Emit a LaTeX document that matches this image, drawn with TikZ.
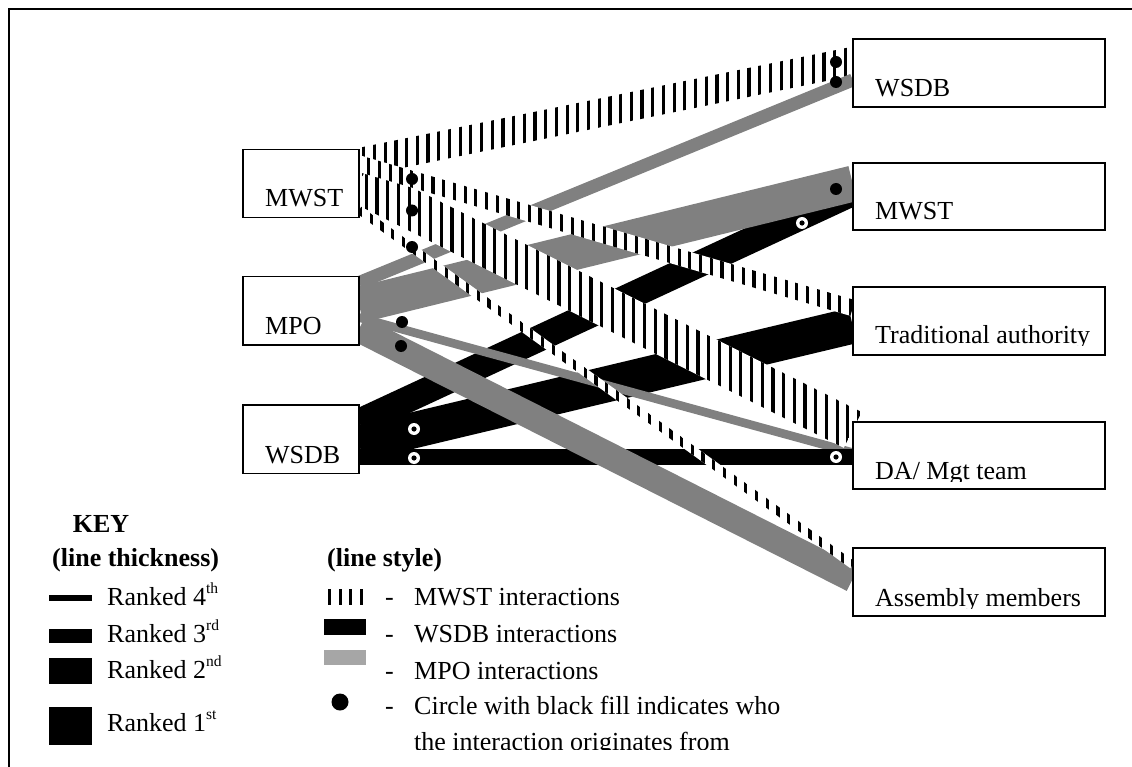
\documentclass[tikz,border=0pt]{standalone}
\usepackage{fontspec}
\setmainfont{Liberation Serif}
\usetikzlibrary{calc,patterns.meta}
\pgfdeclarelayer{bands}
\pgfsetlayers{bands,main}

\definecolor{mpogray}{RGB}{128,128,128}
\definecolor{keygray}{RGB}{166,166,166}

% small raised ordinal suffix
\newcommand{\rsup}[1]{\raisebox{0.45em}{\fontsize{15.5}{15.5}\selectfont #1}}

\begin{document}
\begin{tikzpicture}[
  x=1pt, y=-1pt,
  % a straight band of given half width between two points, with square ends
  ribbon/.style n args={3}{insert path={($(#1)!#3!90:(#2)$) -- ($(#2)!#3!-90:(#1)$) -- ($(#2)!#3!90:(#1)$) -- ($(#1)!#3!-90:(#2)$) -- cycle}},
  wsdbband/.style={fill=black},
  mpoband/.style={fill=mpogray},
  mwstband/.style={fill=white, postaction={pattern={Lines[angle=90, distance=10.7pt, line width=3.2pt, xshift=#1]}}},
  lbox/.style={draw, line width=1.4pt, fill=white, minimum width=116pt, minimum height=68.4pt, inner sep=0pt, outer sep=0pt, anchor=north west},
  rbox/.style={draw, line width=2pt, fill=white, minimum width=252.3pt, minimum height=67.5pt, inner sep=0pt, outer sep=0pt, anchor=north west},
  txt/.style={font=\fontsize{26}{31}\selectfont, inner sep=0pt, anchor=base west},
  btxt/.style={font=\fontsize{26}{31}\selectfont\bfseries, inner sep=0pt, anchor=base west},
  odot/.style={circle, fill=black, minimum size=12pt, inner sep=0pt},
  rdot/.style={circle, fill=white, minimum size=12pt, inner sep=0pt,
    path picture={\fill[black] (path picture bounding box.center) circle (2.6pt);}},
]
\useasboundingbox (0,0) rectangle (1132,767);
\clip (0,0) rectangle (1132,767);

% frame
\draw[line width=2pt] (8.7,767) -- (8.7,9.5) -- (1132,9.5);

% actors on the left
\node[lbox] (lmwst) at (243,149.3) {};
\node[lbox] (lmpo)  at (243,276.7) {};
\node[lbox] (lwsdb) at (243,405) {};
\node[txt] (tlmwst) at ($(lmwst.south west)+(22,-10.8)$) {MWST};
\node[txt] (tlmpo)  at ($(lmpo.south west)+(22,-10.5)$) {MPO};
\node[txt] (tlwsdb) at ($(lwsdb.south west)+(22,-10.3)$) {WSDB};

% actors on the right
\node[rbox] (rwsdb) at (852.7,39.3) {};
\node[rbox] (rmwst) at (852.7,162.7) {};
\node[rbox] (rtrad) at (852.7,287.3) {};
\node[rbox] (rda)   at (852.7,421.7) {};
\node[rbox] (rasm)  at (852.7,548.3) {};
\begin{scope}
  \clip (rwsdb.north west) rectangle ($(rwsdb.south east)+(0,-9)$);
  \node[txt] (trwsdb) at ($(rwsdb.south west)+(22.3,-10.5)$) {WSDB};
\end{scope}
\begin{scope}
  \clip (rmwst.north west) rectangle ($(rmwst.south east)+(0,-9)$);
  \node[txt] (trmwst) at ($(rmwst.south west)+(22.3,-10.8)$) {MWST};
\end{scope}
\begin{scope}
  \clip (rtrad.north west) rectangle ($(rtrad.south east)+(0,-9.5)$);
  \node[txt] (trtrad) at ($(rtrad.south west)+(22.3,-11)$) {Traditional authority};
\end{scope}
\begin{scope}
  \clip (rda.north west) rectangle ($(rda.south east)+(0,-8)$);
  \node[txt] (trda) at ($(rda.south west)+(22.3,-10)$) {DA/ Mgt team};
\end{scope}
\begin{scope}
  \clip (rasm.north west) rectangle ($(rasm.south east)+(0,-7.8)$);
  \node[txt] (trasm) at ($(rasm.south west)+(22.3,-9.3)$) {Assembly members};
\end{scope}

% band end points on the box sides
\coordinate (s1a) at ($(lmwst.north east)+(0,13)$);
\coordinate (s2a) at ($(lmwst.north east)+(0,14.3)$);
\coordinate (s3a) at ($(lmwst.north east)+(0,34.1)$);
\coordinate (s4a) at ($(lmwst.north east)+(0,60.7)$);
\coordinate (g1a) at ($(lmpo.north east)+(0,5.9)$);
\coordinate (g2a) at ($(lmpo.north east)+(0,28.2)$);
\coordinate (g4a) at ($(lmpo.north east)+(0,40.8)$);
\coordinate (g5a) at ($(lmpo.north east)+(0,52.3)$);
\coordinate (b1a) at ($(lwsdb.north east)+(0,17)$);
\coordinate (b2a) at ($(lwsdb.north east)+(0,38.3)$);
\coordinate (b3a) at ($(lwsdb.north east)+(0,52)$);
\coordinate (s1b) at ($(rwsdb.north west)+(0,21.8)$);
\coordinate (g1b) at ($(rwsdb.north west)+(0,40.7)$);
\coordinate (g2b) at ($(rmwst.north west)+(0,20.9)$);
\coordinate (b1b) at ($(rmwst.north west)+(0,30.1)$);
\coordinate (s2b) at ($(rtrad.north west)+(0,20.7)$);
\coordinate (b2b) at ($(rtrad.north west)+(0,38.3)$);
\coordinate (s3b) at ($(rda.north west)+(0,8.2)$);
\coordinate (g4b) at ($(rda.north west)+(0,30.9)$);
\coordinate (b3b) at ($(rda.north west)+(0,35.3)$);
\coordinate (s4b) at ($(rasm.north west)+(0,16.7)$);
\coordinate (g5b) at ($(rasm.north west)+(0,30.7)$);

% interaction bands, bottom to top
\begin{pgfonlayer}{bands}
  \path[mwstband=0pt,   ribbon={s1a}{s1b}{14.2pt}];
  \path[wsdbband,       ribbon={b1a}{b1b}{13.2pt}];
  \path[wsdbband,       ribbon={b2a}{b2b}{18pt}];
  \path[mpoband,        ribbon={g1a}{g1b}{6.5pt}];
  \path[mpoband,        ribbon={g2a}{g2b}{18pt}];
  \path[mpoband,        ribbon={g4a}{g4b}{4.3pt}];
  \path[wsdbband,       ribbon={b3a}{b3b}{8pt}];
  \path[mpoband,        ribbon={g5a}{g5b}{13.3pt}];
  \path[mwstband=2.5pt, ribbon={s3a}{s3b}{20pt}];
  \path[mwstband=5pt,   ribbon={s2a}{s2b}{8.2pt}];
  \path[mwstband=7.5pt, ribbon={s4a}{s4b}{4pt}];
\end{pgfonlayer}

% who started each interaction
\node[odot] (o1) at (412,179) {};
\node[odot] (o2) at (412,210.5) {};
\node[odot] (o3) at (412,247) {};
\node[odot] (o4) at (836,62) {};
\node[odot] (o5) at (836,82) {};
\node[odot] (o6) at (836,189) {};
\node[odot] (o7) at (402,322) {};
\node[odot] (o8) at (401,346) {};
\node[rdot] (r1) at (414,429) {};
\node[rdot] (r2) at (414,458) {};
\node[rdot] (r3) at (836,457) {};
\node[rdot] (r4) at (802,223) {};

% key: line thickness
\node[btxt, anchor=base] (kkey) at (101,532) {KEY};
\node[btxt] (kthick) at (52,566) {(line thickness)};
\fill (49,595) rectangle (92,601);
\fill (49,629) rectangle (92,643);
\fill (49,658) rectangle (92,684);
\fill (49,707) rectangle (92,745);
\node[txt] (kr4) at (107,605) {Ranked 4\rsup{th}};
\node[txt] (kr3) at (107,642) {Ranked 3\rsup{rd}};
\node[txt] (kr2) at (107,678) {Ranked 2\rsup{nd}};
\node[txt] (kr1) at (107,731) {Ranked 1\rsup{st}};

% key: line style
\node[btxt] (kstyle) at (327,566) {(line style)};
\foreach \k in {0,1,2,3}
  \fill (328+\k*10.5,589) rectangle +(3.2,16);
\fill (324,619) rectangle (366,635);
\fill[keygray] (324,650) rectangle (366,665);
\node[odot, minimum size=17pt] (kdot) at (340,702) {};
\node[txt] (kd1) at (385,605) {-};
\node[txt] (kd2) at (385,642) {-};
\node[txt] (kd3) at (385,679) {-};
\node[txt] (kd4) at (385,714) {-};
\node[txt] (kmwst) at (414,605) {MWST interactions};
\node[txt] (kwsdb) at (414,642) {WSDB interactions};
\node[txt] (kmpo)  at (414,679) {MPO interactions};
\node[txt] (kcirc) at (414,714) {Circle with black fill indicates who};
\begin{scope}
  \clip (0,0) rectangle (1132,749);
  \node[txt] (kcirc2) at (414,750) {the interaction originates from};
\end{scope}
\end{tikzpicture}
\end{document}
